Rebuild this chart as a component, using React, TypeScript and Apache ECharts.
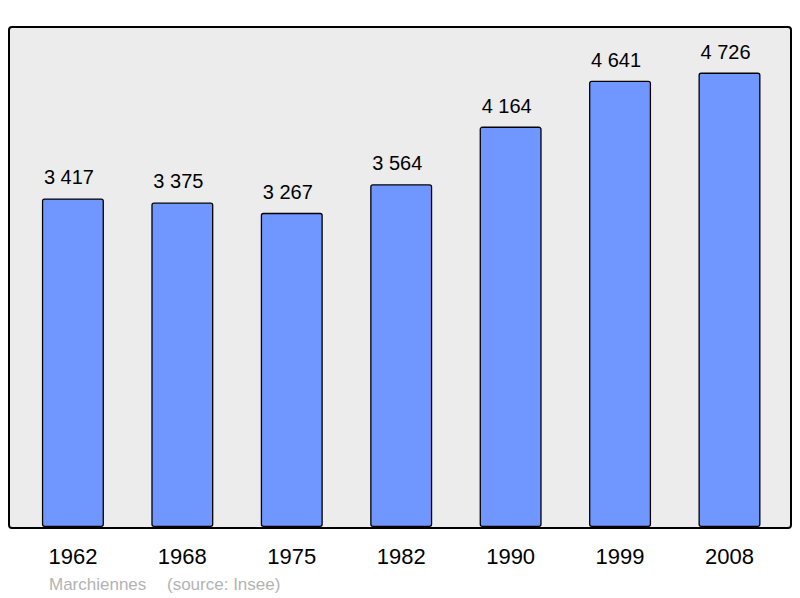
import React, { useEffect, useRef } from "react";
import * as echarts from "echarts";

const years = ["1962", "1968", "1975", "1982", "1990", "1999", "2008"];
const population = [3417, 3375, 3267, 3564, 4164, 4641, 4726];
const townName = "Marchiennes";
const sourceText = "(source: Insee)";

const fmt = (v: number) => {
  const s = String(Math.round(v));
  return s.replace(/\B(?=(\d{3})+(?!\d))/g, " ");
};

export default function App() {
  const ref = useRef<HTMLDivElement>(null);
  useEffect(() => {
    if (!ref.current) return;
    const chart = echarts.init(ref.current, undefined, { renderer: "svg" });
    const font = "'Liberation Sans', Arial, sans-serif";
    chart.setOption({
      animation: false,
      backgroundColor: "#ffffff",
      grid: { left: 18.2, right: 15.8, top: 27, bottom: 71, containLabel: false },
      xAxis: {
        type: "category",
        data: years,
        axisLine: { show: false },
        axisTick: { show: false },
        splitLine: { show: false },
        axisLabel: {
          color: "#000",
          fontSize: 22,
          fontFamily: font,
          margin: 18,
        },
      },
      yAxis: {
        type: "value",
        min: 0,
        max: 5200,
        show: false,
        splitLine: { show: false },
      },
      graphic: [
        {
          type: "rect",
          z: -10,
          shape: { x: 9, y: 27, width: 782, height: 501, r: 3 },
          style: { fill: "#ececec", stroke: "#000", lineWidth: 2 },
        },
        {
          type: "text",
          x: 49,
          y: 584,
          style: {
            text: townName,
            fill: "#b3b3b3",
            font: `17px ${font}`,
            textVerticalAlign: "middle",
          },
        },
        {
          type: "text",
          x: 167,
          y: 584,
          style: {
            text: sourceText,
            fill: "#b3b3b3",
            font: `17px ${font}`,
            textVerticalAlign: "middle",
          },
        },
      ],
      series: [
        {
          type: "bar",
          data: population,
          barWidth: 62,
          itemStyle: {
            color: "#7097ff",
            borderColor: "#000",
            borderWidth: 1.3,
            borderRadius: 2,
          },
          label: {
            show: true,
            position: "top",
            distance: 11,
            align: "left",
            offset: [-29, 0],
            color: "#000",
            fontSize: 20,
            fontFamily: font,
            formatter: (p: any) => fmt(p.value),
          },
        },
      ],
    });
    return () => chart.dispose();
  }, []);
  return (
    <div
      ref={ref}
      style={{ position: "fixed", left: 0, top: 0, width: 800, height: 598 }}
    />
  );
}
